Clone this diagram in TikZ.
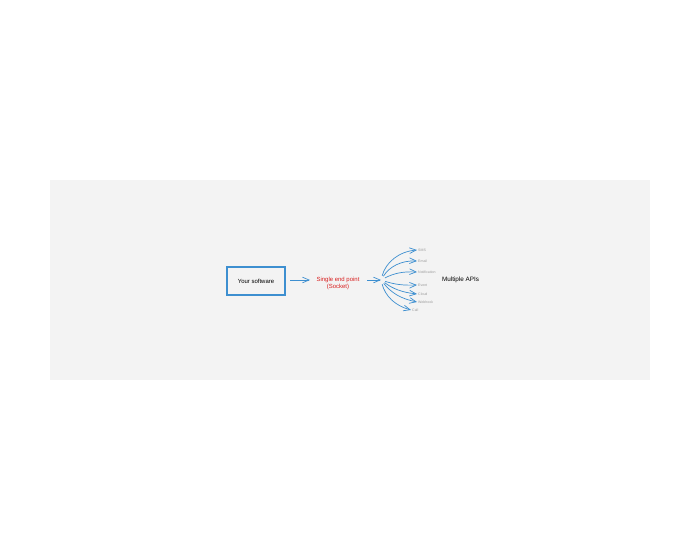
\documentclass[tikz,border=0pt]{standalone}
\usepackage{fontspec}
\setmainfont{Liberation Sans}
\usepackage{tikz}
\usetikzlibrary{arrows}
\usetikzlibrary{positioning}
\definecolor{bggray}{HTML}{F3F3F3}
\definecolor{skyblue}{HTML}{3D8FD0}
\definecolor{endred}{HTML}{D81E1E}
\definecolor{apigray}{HTML}{9A9A9A}
\tikzstyle{hit}=[->,>=angle 45,draw=skyblue,line width=0.4pt]
\tikzstyle{fan}=[every edge/.style={draw=skyblue,->,>=angle 45,line width=0.4pt,shorten <=2.5pt}]
\tikzstyle{swbox}=[draw=skyblue,line width=0.6pt,minimum width=1.16cm,minimum height=0.56cm,inner sep=0,font=\fontsize{3.4}{4}\selectfont]
\tikzstyle{endpt}=[text=endred,align=center,inner sep=1pt,font=\fontsize{3.4}{4}\selectfont]
\tikzstyle{api}=[text=apigray,inner sep=0.5pt,anchor=west,font=\fontsize{2}{2.4}\selectfont]
\tikzstyle{multi}=[inner sep=1pt,font=\fontsize{3.6}{4}\selectfont]
\begin{document}
\begin{tikzpicture}[x=0.02cm,y=-0.02cm,fan]
\path[use as bounding box] (0,0) rectangle (700,560);
\fill[bggray] (50,180) rectangle (650,380);

\node[swbox] (sw) at (256,281) {Your software};
\node[endpt] (ep) at (338,283) {Single end point\\(Socket)};
\coordinate (hub) at (381,280);
\node[multi,anchor=west] (apis) at (440,280) {Multiple APIs};

\node[api] (sms) at (417,250) {SMS};
\node[api] (mail) at (417,261) {Email};
\node[api] (notif) at (417,272) {Notification};
\node[api] (event) at (417,285) {Event};
\node[api] (cloud) at (417,294) {Cloud};
\node[api] (hook) at (417,302) {Webhook};
\node[api] (call) at (411,310) {Call};

\draw[hit] (290,280) -- (310,280);
\draw[hit] (367,280) -- (hub);

\path
(hub) edge[bend left=35] (sms.west)
(hub) edge[bend left=30] (mail.west)
(hub) edge[bend left=15] (notif.west)
(hub) edge[bend right=10] (event.west)
(hub) edge[bend right=15] (cloud.west)
(hub) edge[bend right=20] (hook.west)
(hub) edge[bend right=30] (call.west)
;
\end{tikzpicture}
\end{document}
